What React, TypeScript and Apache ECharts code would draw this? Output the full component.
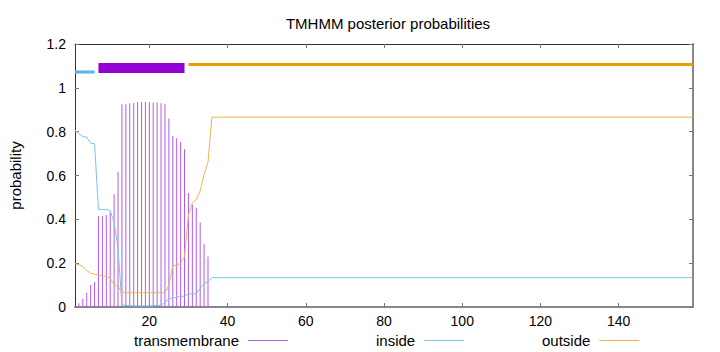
import React, { useEffect, useRef } from "react";
import * as echarts from "echarts";

// residue positions for the transmembrane impulses
const tmPositions = [1, 2, 3, 4, 5, 6, 7, 8, 9, 10, 11, 12, 13, 14, 15, 16, 17, 18, 19, 20, 21, 22, 23, 24, 25, 26, 27, 28, 29, 30, 31, 32, 33, 34, 35];
const tmValues = [0.0, 0.017, 0.038, 0.065, 0.1, 0.114, 0.415, 0.415, 0.42, 0.435, 0.515, 0.616, 0.925, 0.925, 0.93, 0.932, 0.934, 0.935, 0.935, 0.934, 0.933, 0.933, 0.93, 0.927, 0.86, 0.78, 0.77, 0.753, 0.72, 0.52, 0.466, 0.453, 0.385, 0.288, 0.23];

// positions for the inside / outside curves (last point = sequence end)
const linePositions = [1, 2, 3, 4, 5, 6, 7, 8, 9, 10, 11, 12, 13, 14, 15, 16, 17, 18, 19, 20, 21, 22, 23, 24, 25, 26, 27, 28, 29, 30, 31, 32, 33, 34, 35, 36, 159];
const insideValues = [0.808, 0.79, 0.778, 0.775, 0.747, 0.745, 0.446, 0.445, 0.445, 0.44, 0.385, 0.27, 0.01, 0.008, 0.006, 0.005, 0.005, 0.005, 0.005, 0.005, 0.006, 0.007, 0.008, 0.02, 0.04, 0.04, 0.045, 0.048, 0.05, 0.06, 0.06, 0.06, 0.085, 0.107, 0.115, 0.134, 0.134];
const outsideValues = [0.196, 0.193, 0.185, 0.166, 0.155, 0.15, 0.145, 0.143, 0.14, 0.132, 0.103, 0.095, 0.066, 0.065, 0.065, 0.065, 0.065, 0.065, 0.065, 0.065, 0.065, 0.065, 0.065, 0.065, 0.1, 0.187, 0.19, 0.2, 0.23, 0.42, 0.475, 0.49, 0.53, 0.605, 0.66, 0.866, 0.866];

// predicted topology segments drawn above the curves
const topoNames = ["inside", "TMhelix", "outside"];
const topoStarts = [1, 7, 30];
const topoEnds = [6, 29, 159];
const topoLevels = [1.072, 1.09, 1.106];

const xTicks = [20, 40, 60, 80, 100, 120, 140];
const legendNames = ["transmembrane", "inside", "outside"];

const FONT = "Liberation Sans, Arial, sans-serif";

export default function App() {
  const ref = useRef<HTMLDivElement>(null);
  useEffect(() => {
    if (!ref.current) return;
    const chart = echarts.init(ref.current, null, { renderer: "svg" });
    const zip = (xs: number[], ys: number[]) => xs.map((x, i) => [x, ys[i]]);
    const topoColors = ["#56b4e9", "#9400d3", "#e69f00"];
    const topoWidths = [3, 10, 3];
    const topoSeries = topoNames.map((n, i) => ({
      name: "topo-" + n,
      type: "line",
      data: [
        [topoStarts[i], topoLevels[i]],
        [topoEnds[i], topoLevels[i]],
      ],
      symbol: "none",
      lineStyle: { color: topoColors[i], width: topoWidths[i], cap: "butt" },
      z: 5,
      silent: true,
    }));
    const legendLefts = [132, 374, 540];
    const option: any = {
      animation: false,
      textStyle: { fontFamily: FONT },
      title: {
        text: "TMHMM posterior probabilities",
        left: 383,
        top: 11,
        textAlign: "center",
        textStyle: { fontFamily: FONT, fontSize: 15, fontWeight: "normal", color: "#000" },
      },
      legend: legendNames.map((n, i) => ({
        data: [{ name: n, icon: "rect" }],
        left: legendLefts[i],
        top: 331,
        padding: 2,
        align: "right",
        itemWidth: 40,
        itemHeight: 1,
        textStyle: { fontFamily: FONT, fontSize: 15, color: "#000", padding: [0, 4, 0, 0] },
        selectedMode: false,
      })),
      grid: { left: 73, right: 27, top: 44, bottom: 45 },
      xAxis: [
        {
          type: "value",
          min: 1,
          max: 159,
          position: "bottom",
          axisLine: { show: true, lineStyle: { color: "#888", width: 2 } },
          axisTick: { show: true, inside: true, length: 4, customValues: xTicks, lineStyle: { color: "#777" } },
          axisLabel: { customValues: xTicks, color: "#000", fontSize: 14, fontFamily: FONT, margin: 7 },
          splitLine: { show: false },
        },
        {
          type: "value",
          min: 1,
          max: 159,
          position: "top",
          axisLine: { show: true, onZero: false, lineStyle: { color: "#333", width: 1 } },
          axisTick: { show: true, inside: true, length: 4, customValues: xTicks, lineStyle: { color: "#777" } },
          axisLabel: { show: false },
          splitLine: { show: false },
        },
      ],
      yAxis: [
        {
          type: "value",
          min: 0,
          max: 1.2,
          interval: 0.2,
          position: "left",
          name: "probability",
          nameLocation: "middle",
          nameGap: 52,
          nameTextStyle: { fontFamily: FONT, fontSize: 15, color: "#000" },
          axisLine: { show: true, lineStyle: { color: "#333", width: 1 } },
          axisTick: { show: true, inside: true, length: 4, lineStyle: { color: "#777" } },
          axisLabel: { color: "#000", fontSize: 14, fontFamily: FONT, margin: 9 },
          splitLine: { show: false },
        },
        {
          type: "value",
          min: 0,
          max: 1.2,
          interval: 0.2,
          position: "right",
          axisLine: { show: true, onZero: false, lineStyle: { color: "#888", width: 2 } },
          axisTick: { show: true, inside: true, length: 4, lineStyle: { color: "#777" } },
          axisLabel: { show: false },
          splitLine: { show: false },
        },
      ],
      series: [
        {
          name: "transmembrane",
          type: "bar",
          data: zip(tmPositions, tmValues),
          barWidth: 1,
          itemStyle: { color: "#b25ce0" },
          xAxisIndex: 0,
          yAxisIndex: 0,
        },
        {
          name: "inside",
          type: "line",
          data: zip(linePositions, insideValues),
          symbol: "none",
          lineStyle: { color: "#7cc4ee", width: 1 },
          itemStyle: { color: "#7cc4ee" },
        },
        {
          name: "outside",
          type: "line",
          data: zip(linePositions, outsideValues),
          symbol: "none",
          lineStyle: { color: "#ecb552", width: 1 },
          itemStyle: { color: "#ecb552" },
        },
        ...topoSeries,
      ],
    };
    chart.setOption(option);
    return () => chart.dispose();
  }, []);
  return (
    <div
      ref={ref}
      style={{ position: "fixed", left: 0, top: 0, width: 720, height: 352, background: "#fff" }}
    />
  );
}
